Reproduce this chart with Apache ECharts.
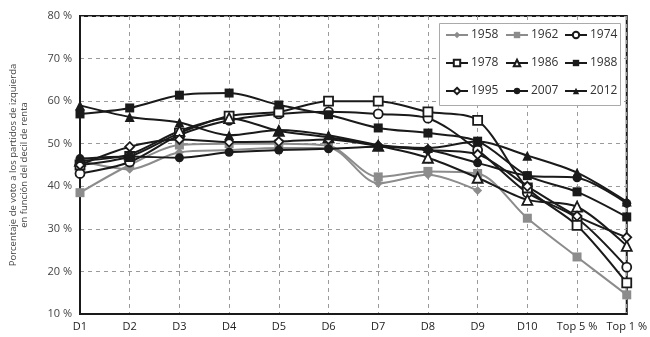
<!DOCTYPE html>
<html>
<head>
<meta charset="utf-8">
<script src="https://cdn.jsdelivr.net/npm/echarts@6/dist/echarts.min.js"></script>
<style>
  html, body { margin: 0; padding: 0; background: #fff; }
  #chart { width: 650px; height: 337px; }
</style>
</head>
<body>
<div id="chart"></div>
<script>
var categories = ['D1', 'D2', 'D3', 'D4', 'D5', 'D6', 'D7', 'D8', 'D9', 'D10', 'Top 5 %', 'Top 1 %'];
var yTicks = [10, 20, 30, 40, 50, 60, 70, 80];

// % de voto por año
var v1958 = [46, 44, 48, 48.5, 49, 49, 40.7, 42.7, 39, null, null, null];
var v1962 = [38.5, 45, 49.7, 50, 50, 49.5, 42.2, 43.5, 43, 32.5, 23.4, 14.5];
var v1974 = [43, 45.7, 52, 55.5, 57, 57.5, 57, 56, 48.5, 38.5, 32.5, 21];
var v1978 = [45, 47, 52.5, 56.5, 57.5, 60, 60, 57.5, 55.5, 39.6, 30.8, 17.3];
var v1986 = [46, 47.5, 53, 56, 53, 51.5, 49.5, 46.7, 42, 36.8, 35.2, 26];
var v1988 = [57, 58.4, 61.4, 61.9, 59.1, 56.8, 53.7, 52.5, 50.6, 42.5, 38.7, 32.8];
var v1995 = [45, 49.3, 51, 50.4, 50.5, 51, 49.5, 48.5, 47.5, 40, 33, 28];
var v2007 = [46.5, 47, 46.7, 48, 48.5, 48.8, 49.3, 48.6, 45.5, 42.5, 42, 36];
var v2012 = [59, 56.3, 55, 52, 53.2, 52, 49.7, 49, 50.5, 47.2, 43.2, 36.4];

var dom = document.getElementById('chart');
var myChart = echarts.init(dom, null, { renderer: 'canvas' });

var font = '"Open Sans", "Noto Sans", sans-serif';
var black = '#1a1a1a';
var gray = '#8c8c8c';

function mk(name, data, color, symbol, filled) {
    return {
        name: name,
        type: 'line',
        smooth: 0.3,
        data: data,
        symbol: symbol,
        symbolSize: symbol === 'triangle' ? 10 : 9,
        lineStyle: { color: color, width: 2 },
        itemStyle: {
            color: filled ? color : '#fff',
            borderColor: color,
            borderWidth: filled ? 0 : 1.8
        },
        emphasis: { disabled: true },
        z: color === gray ? 2 : 3
    };
}

var legendBase = {
    orient: 'vertical',
    top: 29,
    z: 20,
    itemWidth: 22,
    itemHeight: 8,
    itemGap: 16,
    padding: 0,
    textStyle: { fontFamily: font, fontSize: 12, color: '#333', padding: [0, 0, 0, -2] },
    selectedMode: false
};

myChart.setOption({
    animation: false,
    textStyle: { fontFamily: font },
    graphic: [{
        type: 'rect',
        left: 439, top: 23,
        shape: { width: 181, height: 82 },
        style: { fill: '#fff', stroke: '#aaa', lineWidth: 1 },
        z: 5
    }],
    legend: [
        Object.assign({}, legendBase, { left: 445, data: ['1958', '1978', '1995'] }),
        Object.assign({}, legendBase, { left: 505, data: ['1962', '1986', '2007'] }),
        Object.assign({}, legendBase, { left: 564, data: ['1974', '1988', '2012'] })
    ],
    grid: {
        left: 77, right: 20, top: 16, bottom: 23,
        show: true,
        borderColor: black,
        borderWidth: 2,
        containLabel: false
    },
    xAxis: {
        type: 'category',
        data: categories,
        boundaryGap: false,
        axisLine: { show: true, lineStyle: { color: black, width: 2 } },
        axisTick: { show: false },
        axisLabel: { interval: 0, color: '#222', fontSize: 11, margin: 7, fontFamily: font },
        splitLine: { show: true, interval: 0, lineStyle: { color: '#9a9a9a', type: [4, 4], width: 1 } }
    },
    yAxis: {
        type: 'value',
        min: yTicks[0],
        max: yTicks[yTicks.length - 1],
        interval: 10,
        axisLine: { show: true, lineStyle: { color: black, width: 2 } },
        axisTick: { show: false },
        axisLabel: { color: '#444', fontSize: 11, margin: 8, formatter: '{value} %', fontFamily: font },
        splitLine: { show: true, lineStyle: { color: '#9a9a9a', type: [4, 4], width: 1 } },
        name: 'Porcentaje de voto a los partidos de izquierda\nen función del decil de renta',
        nameLocation: 'middle',
        nameRotate: 90,
        nameGap: 50,
        nameTextStyle: { color: '#444', fontSize: 9.5, lineHeight: 11, fontFamily: font }
    },
    series: [
        mk('1958', v1958, gray, 'diamond', true),
        mk('1962', v1962, gray, 'rect', true),
        mk('1974', v1974, black, 'circle', false),
        mk('1978', v1978, black, 'rect', false),
        mk('1986', v1986, black, 'triangle', false),
        mk('1988', v1988, black, 'rect', true),
        mk('1995', v1995, black, 'diamond', false),
        mk('2007', v2007, black, 'circle', true),
        mk('2012', v2012, black, 'triangle', true)
    ]
});
</script>
</body>
</html>
